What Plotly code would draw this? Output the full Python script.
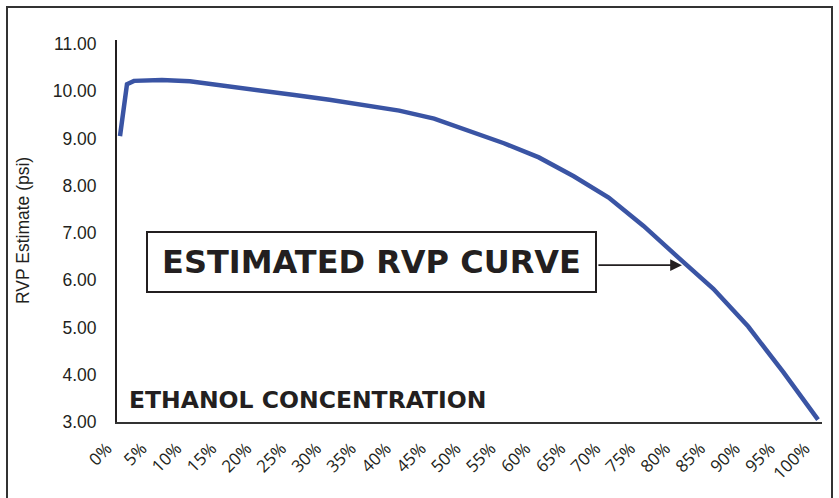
import plotly.graph_objects as go

# ---- data ----
ethanol_pct = [0, 1, 2, 4, 6, 10, 15, 20, 25, 30, 35, 40, 45, 50, 55, 60, 65, 70, 75, 80, 85, 90, 95, 100]
rvp_psi = [9.05, 10.15, 10.22, 10.24, 10.24, 10.21, 10.12, 10.03, 9.92, 9.82, 9.70, 9.59, 9.42, 9.17,
           8.90, 8.60, 8.20, 7.75, 7.15, 6.48, 5.82, 5.02, 4.06, 3.05]
x_tick_vals = list(range(0, 101, 5))
x_tick_text = [f"{v}%" for v in x_tick_vals]
y_tick_vals = [3, 4, 5, 6, 7, 8, 9, 10, 11]
y_tick_text = [f"{v:.2f}" for v in y_tick_vals]

W, H = 839, 498
L, R, T, B = 117, 17, 40, 76
PW, PH = W - L - R, H - T - B
X0, X1 = -0.43, 100.57


def px(x):
    return (x - L) / PW


def py(y):
    return (H - B - y) / PH


DARK = "#231f20"
BLUE = "#3a54a4"

fig = go.Figure()
fig.add_trace(go.Scatter(x=ethanol_pct, y=rvp_psi, mode="lines",
                         line=dict(color=BLUE, width=4.5), hoverinfo="skip"))

fig.update_layout(
    width=W, height=H,
    margin=dict(l=L, r=R, t=T, b=B, autoexpand=False),
    paper_bgcolor="white", plot_bgcolor="white",
    showlegend=False,
    xaxis=dict(range=[X0, X1], tickvals=x_tick_vals, ticktext=x_tick_text, tickangle=-45,
               showgrid=False, zeroline=False, showline=True,
               linecolor="#333333", linewidth=2, ticks="", automargin=False,
               tickfont=dict(family="Open Sans", size=17, color=DARK),
               ticklabelstandoff=8, ticklabelshift=-13),
    yaxis=dict(range=[3, 11.085], tickvals=y_tick_vals, ticktext=y_tick_text,
               showgrid=False, zeroline=False, showline=True, automargin=False,
               linecolor=DARK, linewidth=2, ticks="",
               tickfont=dict(family="Liberation Sans", size=17.5, color=DARK),
               ticklabelstandoff=15),
)

# outer frame
fig.add_shape(type="rect", xref="paper", yref="paper",
              x0=px(7), x1=px(832), y0=py(520), y1=py(7),
              line=dict(color="#333333", width=2), fillcolor="rgba(0,0,0,0)", layer="below")

# y axis title
fig.add_annotation(xref="paper", yref="paper", x=px(23), y=py(231), text="RVP Estimate (psi)",
                   textangle=-90, showarrow=False, xanchor="center", yanchor="middle",
                   font=dict(family="Liberation Sans", size=17.5, color=DARK))

# x axis title inside plot
fig.add_annotation(xref="paper", yref="paper", x=px(127), y=py(400), text="ETHANOL CONCENTRATION",
                   showarrow=False, xanchor="left", yanchor="middle",
                   font=dict(family="DejaVu Sans", size=23.5, color=DARK, weight="bold"))

# boxed label
fig.add_annotation(xref="paper", yref="paper", x=px(371.5), y=py(261.5), text="ESTIMATED RVP CURVE",
                   showarrow=False, xanchor="center", yanchor="middle",
                   width=447, height=58, borderpad=0, bordercolor=DARK, borderwidth=2,
                   bgcolor="white",
                   font=dict(family="DejaVu Sans", size=32, color=DARK, weight="bold"))

# arrow
fig.add_annotation(x=80.5, y=6.32, xref="x", yref="y", text="", showarrow=True,
                   ax=-85, ay=0, arrowhead=2, arrowsize=1.3, arrowwidth=1.8, arrowcolor=DARK,
                   standoff=0)

fig.write_html("out.html", config={"displayModeBar": False},
               post_script="document.body.style.margin='0px';")
